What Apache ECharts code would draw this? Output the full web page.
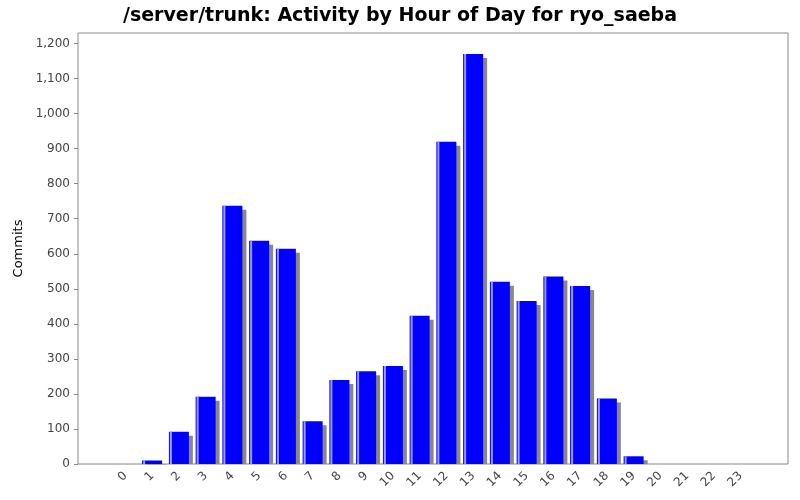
<!DOCTYPE html>
<html>
<head>
<meta charset="utf-8">
<script src="https://cdn.jsdelivr.net/npm/echarts@6/dist/echarts.min.js"></script>
<style>html,body{margin:0;padding:0;background:#fff}</style>
</head>
<body>
<div id="main" style="width:800px;height:500px;"></div>
<script>
var hours = ['0','1','2','3','4','5','6','7','8','9','10','11','12','13','14','15','16','17','18','19','20','21','22','23'];
var commits = [0, 10, 92, 192, 737, 637, 614, 122, 240, 265, 280, 423, 920, 1170, 520, 465, 535, 508, 187, 22, 0, 0, 0, 0];

var myChart = echarts.init(document.getElementById('main'));
var option = {
	animation: false,
	title: {
		text: '/server/trunk: Activity by Hour of Day for ryo_saeba',
		left: 'center', top: 2,
		textStyle: {fontFamily: 'DejaVu Sans', fontWeight: 'bold', fontSize: 19, color: '#000'}
	},
	graphic: [{
		type: 'rect', z: -1,
		shape: {x: 78, y: 33, width: 710, height: 431},
		style: {fill: '#fff', stroke: '#888', lineWidth: 1}
	}],
	grid: {left: 112, right: 46, top: 33, bottom: 36},
	xAxis: {
		type: 'category',
		data: hours,
		axisLine: {show: false},
		axisTick: {show: false},
		axisLabel: {rotate: 45, color: '#444', fontFamily: 'DejaVu Sans', fontSize: 12, margin: 10}
	},
	yAxis: {
		type: 'value',
		min: 0, max: 1230, interval: 100,
		offset: 34,
		name: 'Commits', nameLocation: 'middle', nameGap: 52,
		nameTextStyle: {fontFamily: 'DejaVu Sans', fontSize: 13, color: '#000'},
		splitLine: {show: false},
		axisLine: {show: false},
		axisTick: {show: true, length: 4, lineStyle: {color: '#888'}},
		axisLabel: {color: '#444', fontFamily: 'DejaVu Sans', fontSize: 12,
			formatter: function (v) { return v.toLocaleString('en-US'); }}
	},
	series: [{
		type: 'custom',
		data: commits.map(function (v, i) { return [i, v]; }),
		renderItem: function (params, api) {
			var v = api.value(1);
			if (!v) return;
			var top = api.coord([api.value(0), v]);
			var base = api.coord([api.value(0), 0]);
			var w = 20, x = top[0] - w / 2;
			var h = base[1] - top[1];
			return {
				type: 'group',
				children: [
					{type: 'rect', shape: {x: x + 4, y: top[1] + 4, width: w, height: h - 4}, style: {fill: '#888'}},
					{type: 'rect', shape: {x: x, y: top[1], width: w, height: h}, style: {fill: '#0000ff'}},
					{type: 'rect', shape: {x: x + 1, y: top[1], width: 2, height: h}, style: {fill: '#9999ff'}}
				]
			};
		}
	}]
};
myChart.setOption(option);
</script>
</body>
</html>
